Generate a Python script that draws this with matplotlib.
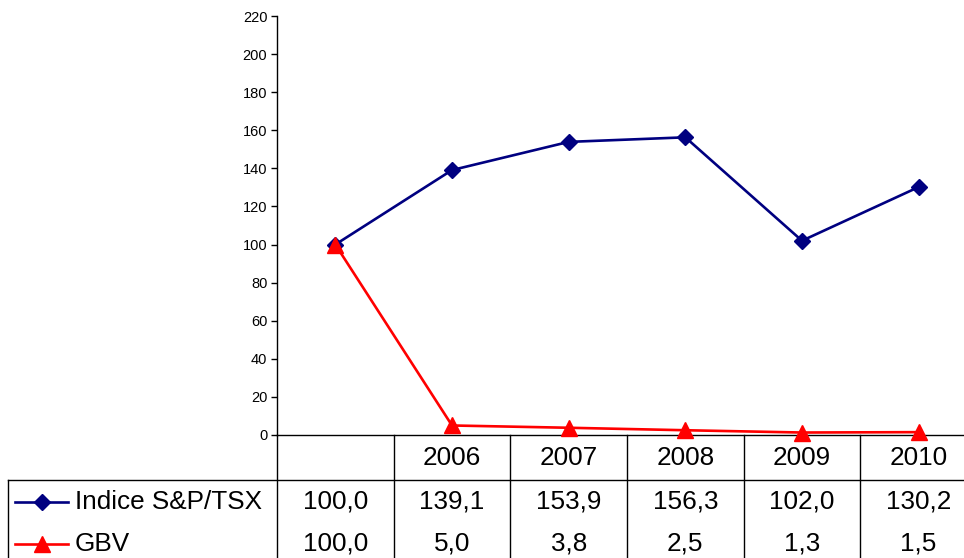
import matplotlib
matplotlib.use("Agg")
import matplotlib.pyplot as plt
import matplotlib.transforms as mtransforms
from matplotlib.lines import Line2D

plt.rcParams["font.family"] = ["Liberation Sans", "DejaVu Sans"]

# ----------------------------
# Data
# ----------------------------
categories = ["", "2006", "2007", "2008", "2009", "2010"]
sp_tsx = [100.0, 139.1, 153.9, 156.3, 102.0, 130.2]
gbv = [100.0, 5.0, 3.8, 2.5, 1.3, 1.5]
series_names = ["Indice S&P/TSX", "GBV"]
yticks = list(range(0, 221, 20))

NAVY = "#000080"
RED = "#FF0000"


def fmt(v):
    return f"{v:.1f}".replace(".", ",")


def main():
    W, H = 964, 558
    fig = plt.figure(figsize=(W / 100, H / 100), dpi=100)

    # plot area in pixels: x 277 -> 977 (6 columns of ~116.7 px), y 16 -> 435
    x0, x1, ytop, ybot = 277, 977, 16, 435
    ax = fig.add_axes([x0 / W, (H - ybot) / H, (x1 - x0) / W, (ybot - ytop) / H])

    xs = list(range(len(categories)))
    ax.plot(xs, sp_tsx, color=NAVY, lw=1.9, marker="D", ms=8.5, label=series_names[0],
            clip_on=False, zorder=3)
    ax.plot(xs, gbv, color=RED, lw=1.9, marker="^", ms=11.5, label=series_names[1],
            clip_on=False, zorder=4)

    ax.set_xlim(-0.5, len(categories) - 0.5)
    ax.set_ylim(0, 220)
    ax.set_yticks(yticks)
    ax.set_xticks([])
    ax.tick_params(axis="y", direction="out", length=4, width=1, labelsize=10.5, pad=3)
    for s in ["top", "right"]:
        ax.spines[s].set_visible(False)
    ax.spines["left"].set_linewidth(1)
    ax.spines["bottom"].set_linewidth(1)

    # ----- data table below the axis -----
    px_per_unit = (x1 - x0) / len(categories)
    trans = mtransforms.blended_transform_factory(ax.transData, ax.transAxes)

    def xdata(px):
        return -0.5 + (px - x0) / px_per_unit

    def yax(py):
        return (ybot - py) / (ybot - ytop)

    line_kw = dict(color="black", lw=1, transform=trans, clip_on=False)
    # vertical column separators (axis line continues down too)
    for i in range(len(categories) + 1):
        ax.add_line(Line2D([i - 0.5, i - 0.5], [0, yax(H + 5)], **line_kw))
    # row separator below header
    ax.add_line(Line2D([xdata(8), len(categories) - 0.5], [yax(480), yax(480)], **line_kw))
    # left border of legend cells
    ax.add_line(Line2D([xdata(8), xdata(8)], [yax(480), yax(H + 5)], **line_kw))

    fs = 18.8
    for i, c in enumerate(categories):
        ax.text(i, yax(458), c, transform=trans, ha="center", va="center", fontsize=fs)
    for i in range(len(categories)):
        ax.text(i, yax(502), fmt(sp_tsx[i]), transform=trans, ha="center", va="center", fontsize=fs)
        ax.text(i, yax(544), fmt(gbv[i]), transform=trans, ha="center", va="center", fontsize=fs)

    # legend keys in row header cells
    for name, color, mk, ms, py in [(series_names[0], NAVY, "D", 8.5, 502),
                                    (series_names[1], RED, "^", 11.5, 544)]:
        ax.add_line(Line2D([xdata(15), xdata(68)], [yax(py), yax(py)], color=color, lw=1.9,
                           transform=trans, clip_on=False))
        ax.add_line(Line2D([xdata(41.5)], [yax(py)], color=color, marker=mk, ms=ms,
                           transform=trans, clip_on=False))
        ax.text(xdata(75), yax(py), name, transform=trans, ha="left", va="center", fontsize=fs)

    fig.savefig("out.png", dpi=100)


if __name__ == "__main__":
    main()
